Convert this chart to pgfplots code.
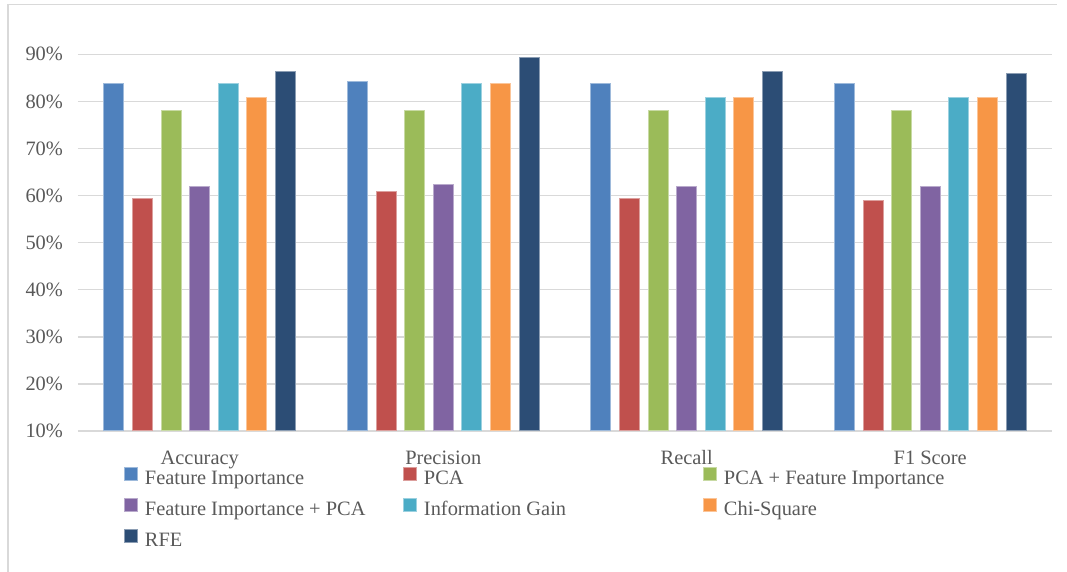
\documentclass[border=0pt]{standalone}
\usepackage{pgfplots}
\pgfplotsset{compat=1.18}
\usepackage{fontspec}
\setmainfont{Liberation Serif}

\definecolor{cFI}{HTML}{4F81BD}
\definecolor{cPCA}{HTML}{C0504D}
\definecolor{cPCAFI}{HTML}{9BBB59}
\definecolor{cFIPCA}{HTML}{8064A2}
\definecolor{cIG}{HTML}{4BACC6}
\definecolor{cChi}{HTML}{F79646}
\definecolor{cRFE}{HTML}{2C4D75}
\definecolor{txt}{HTML}{595959}
\definecolor{gridc}{HTML}{D9D9D9}

\newcommand{\lbl}{\fontsize{10.2}{12}\selectfont}

\begin{document}
\begin{tikzpicture}
\useasboundingbox (0,0) rectangle (533.5pt,286pt);
% chart frame (left and top edges)
\draw[gridc, line width=0.75pt] (4pt,0pt) -- (4pt,283.65pt) -- (528.5pt,283.65pt);
\begin{axis}[
  at={(39pt,70.5pt)}, anchor=south west,
  scale only axis, width=487pt, height=188.35pt,
  ybar=4.3pt, bar width=10pt,
  xmin=-0.5, xmax=3.5, ymin=10, ymax=90,
  xtick={0,1,2,3},
  xticklabels={Accuracy,Precision,Recall,F1 Score},
  ytick={10,20,...,90},
  yticklabel={\pgfmathprintnumber{\tick}\%},
  /pgf/number format/assume math mode=true,
  ymajorgrids, grid style={gridc, line width=0.75pt},
  axis line style={draw=none},
  major tick length=0pt,
  tick label style={font=\lbl, text=txt},
  xticklabel style={anchor=base, yshift=-17pt},
  yticklabel style={xshift=-4pt},
  legend columns=3,
  legend cell align=left,
  legend style={at={(0.0472,-0.0955)}, anchor=north west, draw=none, fill=none,
    inner sep=0pt, outer sep=0pt, column sep=0pt, row sep=4pt,
    font=\lbl, text=txt,
    nodes={inner sep=0pt, text height=7pt, text depth=2.5pt}},
  legend image code/.code={\fill[#1] (0pt,0pt) rectangle (6.5pt,6.5pt);},
]
\addplot[fill=cFI, draw=cFI!55!white, line width=0.5pt]
  coordinates {(0,83.8) (1,84.2) (2,83.8) (3,83.8)};
\addlegendentry{\hspace*{3.5pt}\makebox[129pt][l]{Feature Importance}}
\addplot[fill=cPCA, draw=cPCA!55!white, line width=0.5pt]
  coordinates {(0,59.3) (1,60.8) (2,59.3) (3,59.0)};
\addlegendentry{\hspace*{3.5pt}\makebox[139.5pt][l]{PCA}}
\addplot[fill=cPCAFI, draw=cPCAFI!55!white, line width=0.5pt]
  coordinates {(0,78.1) (1,78.1) (2,78.1) (3,78.1)};
\addlegendentry{\hspace*{3.5pt}PCA + Feature Importance}
\addplot[fill=cFIPCA, draw=cFIPCA!55!white, line width=0.5pt]
  coordinates {(0,62.0) (1,62.4) (2,62.0) (3,62.0)};
\addlegendentry{\hspace*{3.5pt}\makebox[129pt][l]{Feature Importance + PCA}}
\addplot[fill=cIG, draw=cIG!55!white, line width=0.5pt]
  coordinates {(0,83.8) (1,83.8) (2,80.8) (3,80.8)};
\addlegendentry{\hspace*{3.5pt}\makebox[139.5pt][l]{Information Gain}}
\addplot[fill=cChi, draw=cChi!55!white, line width=0.5pt]
  coordinates {(0,80.8) (1,83.8) (2,80.8) (3,80.8)};
\addlegendentry{\hspace*{3.5pt}Chi-Square}
\addplot[fill=cRFE, draw=cRFE!55!white, line width=0.5pt]
  coordinates {(0,86.4) (1,89.4) (2,86.4) (3,86.0)};
\addlegendentry{\hspace*{3.5pt}RFE}
\end{axis}
\end{tikzpicture}
\end{document}
